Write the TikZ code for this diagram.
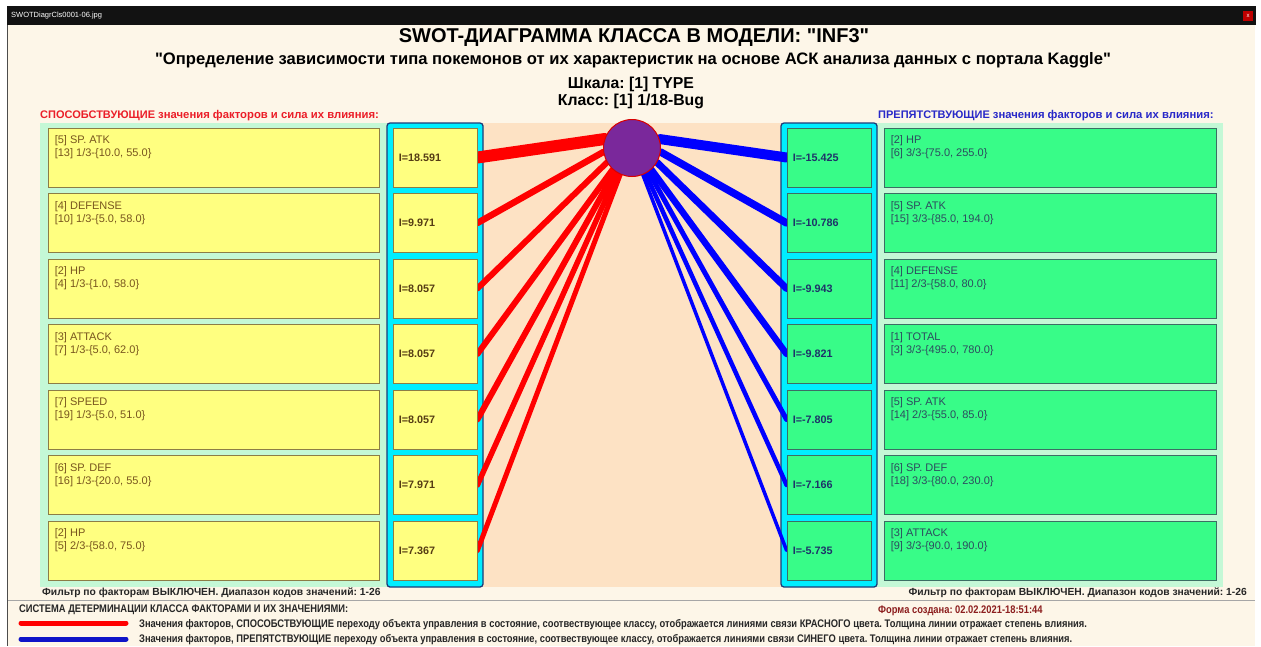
\documentclass[tikz,border=0pt]{standalone}
\usepackage{fontspec}
\setmainfont{Liberation Sans}[Ligatures=TeXOff]
\newfontfamily\nar{Liberation Sans}[FakeStretch=0.85,Ligatures=TeXOff]
\frenchspacing
\pgfdeclarelayer{bg}
\pgfdeclarelayer{lines}
\pgfsetlayers{bg,lines,main}
\definecolor{cream}{RGB}{253,246,232}
\definecolor{peach}{RGB}{253,226,196}
\definecolor{mint}{RGB}{196,248,214}
\definecolor{yel}{RGB}{255,255,128}
\definecolor{yelb}{RGB}{140,125,70}
\definecolor{cy}{RGB}{0,238,255}
\definecolor{cyb}{RGB}{30,60,120}
\definecolor{grn}{RGB}{56,252,136}
\definecolor{grnb}{RGB}{60,110,100}
\definecolor{ytxt}{RGB}{120,85,30}
\definecolor{gtxt}{RGB}{45,75,95}
\definecolor{ilab}{RGB}{85,60,20}
\definecolor{glab}{RGB}{30,50,105}
\definecolor{rtitle}{RGB}{235,30,40}
\definecolor{btitle}{RGB}{40,40,200}
\definecolor{formc}{RGB}{140,30,30}
\definecolor{purp}{RGB}{122,40,155}
\definecolor{lblue}{RGB}{15,20,200}
\begin{document}
\begin{tikzpicture}[x=1pt,y=-1pt,
  ybig/.style={draw=yelb, fill=yel, line width=0.8pt, minimum width=331pt, minimum height=59pt, inner sep=0pt},
  ysm/.style={draw=yelb, fill=yel, line width=0.8pt, minimum width=84pt, minimum height=59pt, inner sep=0pt},
  gbig/.style={draw=grnb, fill=grn, line width=0.8pt, minimum width=332pt, minimum height=59pt, inner sep=0pt},
  gsm/.style={draw=grnb, fill=grn, line width=0.8pt, minimum width=84pt, minimum height=59pt, inner sep=0pt},
  colbox/.style={draw=cyb, fill=cy, line width=1.3pt, rounded corners=3pt, minimum width=96pt, minimum height=464pt, inner sep=0pt},
  ytext/.style={anchor=north west, align=left, inner sep=0pt, text=ytxt, font=\fontsize{11}{13}\selectfont},
  gtext/.style={anchor=north west, align=left, inner sep=0pt, text=gtxt, font=\fontsize{11}{13}\selectfont},
  ilabel/.style={anchor=west, inner sep=0pt, text=ilab, font=\bfseries\fontsize{10.8}{12}\selectfont},
  glabel/.style={anchor=west, inner sep=0pt, text=glab, font=\bfseries\fontsize{10.8}{12}\selectfont},
  rl/.style={draw=red, line cap=round},
  bl/.style={draw=blue, line cap=round},
  legtext/.style={anchor=west, inner sep=0pt, text=black!85, font=\nar\bfseries\fontsize{11}{12}\selectfont},
  foot/.style={inner sep=0pt, text=black!85, font=\bfseries\fontsize{10.3}{12}\selectfont}
]
\useasboundingbox (0,0) rectangle (1261,646);
\begin{pgfonlayer}{bg}
\fill[white] (0,0) rectangle (1261,646);
\fill[cream] (7,25) rectangle (1255,646);
\fill[black!93] (7,6) rectangle (1256,25);
\draw[black!70, line width=1pt] (7.5,25) -- (7.5,646);
\fill[mint] (40,123) rectangle (387,587);
\fill[mint] (877,123) rectangle (1223,587);
\fill[peach] (483,123) rectangle (781,587);
\draw[gray!70, line width=1.2pt] (8,600.5) -- (1255,600.5);
\node[colbox] (colL) at (435,355) {};
\node[colbox] (colR) at (829,355) {};
\end{pgfonlayer}

% title bar
\node[anchor=west, inner sep=0pt, text=white, font=\fontsize{7.5}{8}\selectfont] (tbar) at (11,15.5) {SWOTDiagrCls0001-06.jpg};
\node[fill=red!75!black, minimum width=10pt, minimum height=10pt, inner sep=0pt, text=white, font=\fontsize{6}{6}\selectfont] (close) at (1248,16) {x};

% titles
\node[inner sep=0pt, font=\bfseries\fontsize{20}{22}\selectfont] (title) at (634,38) {SWOT-ДИАГРАММА КЛАССА В МОДЕЛИ: "INF3"};
\node[inner sep=0pt, font=\bfseries\fontsize{16.6}{18}\selectfont] (sub) at (633,60) {"Определение зависимости типа покемонов от их характеристик на основе АСК анализа данных с портала Kaggle"};
\node[inner sep=0pt, font=\bfseries\fontsize{15.8}{17}\selectfont] (scale) at (631,84) {Шкала: [1] TYPE};
\node[inner sep=0pt, font=\bfseries\fontsize{15.8}{17}\selectfont] (cls) at (631,101) {Класс: [1] 1/18-Bug};
\node[anchor=west, inner sep=0pt, text=rtitle, font=\bfseries\fontsize{11}{13}\selectfont] (hl) at (40,116) {СПОСОБСТВУЮЩИЕ {\fontsize{11.3}{13}\selectfont значения факторов и сила их влияния:}};
\node[anchor=west, inner sep=0pt, text=btitle, font=\bfseries\fontsize{11}{13}\selectfont] (hr) at (878,116) {ПРЕПЯТСТВУЮЩИЕ {\fontsize{11.3}{13}\selectfont значения факторов и сила их влияния:}};

% left boxes
\node[ybig] (L1) at (213.5,157.5) {};
\node[ybig] (L2) at (213.5,223) {};
\node[ybig] (L3) at (213.5,288.5) {};
\node[ybig] (L4) at (213.5,354) {};
\node[ybig] (L5) at (213.5,419.5) {};
\node[ybig] (L6) at (213.5,485) {};
\node[ybig] (L7) at (213.5,550.5) {};
\node[ytext] (L1t) at ([shift={(7,8)}]L1.north west) {[5] SP. ATK\\{}[13] 1/3-\{10.0, 55.0\}};
\node[ytext] (L2t) at ([shift={(7,8)}]L2.north west) {[4] DEFENSE\\{}[10] 1/3-\{5.0, 58.0\}};
\node[ytext] (L3t) at ([shift={(7,8)}]L3.north west) {[2] HP\\{}[4] 1/3-\{1.0, 58.0\}};
\node[ytext] (L4t) at ([shift={(7,8)}]L4.north west) {[3] ATTACK\\{}[7] 1/3-\{5.0, 62.0\}};
\node[ytext] (L5t) at ([shift={(7,8)}]L5.north west) {[7] SPEED\\{}[19] 1/3-\{5.0, 51.0\}};
\node[ytext] (L6t) at ([shift={(7,8)}]L6.north west) {[6] SP. DEF\\{}[16] 1/3-\{20.0, 55.0\}};
\node[ytext] (L7t) at ([shift={(7,8)}]L7.north west) {[2] HP\\{}[5] 2/3-\{58.0, 75.0\}};

\node[ysm] (S1) at (435,157.5) {};
\node[ysm] (S2) at (435,223) {};
\node[ysm] (S3) at (435,288.5) {};
\node[ysm] (S4) at (435,354) {};
\node[ysm] (S5) at (435,419.5) {};
\node[ysm] (S6) at (435,485) {};
\node[ysm] (S7) at (435,550.5) {};
\node[ilabel] (S1t) at ([xshift=6]S1.west) {I=18.591};
\node[ilabel] (S2t) at ([xshift=6]S2.west) {I=9.971};
\node[ilabel] (S3t) at ([xshift=6]S3.west) {I=8.057};
\node[ilabel] (S4t) at ([xshift=6]S4.west) {I=8.057};
\node[ilabel] (S5t) at ([xshift=6]S5.west) {I=8.057};
\node[ilabel] (S6t) at ([xshift=6]S6.west) {I=7.971};
\node[ilabel] (S7t) at ([xshift=6]S7.west) {I=7.367};

% right boxes
\node[gsm] (T1) at (829,157.5) {};
\node[gsm] (T2) at (829,223) {};
\node[gsm] (T3) at (829,288.5) {};
\node[gsm] (T4) at (829,354) {};
\node[gsm] (T5) at (829,419.5) {};
\node[gsm] (T6) at (829,485) {};
\node[gsm] (T7) at (829,550.5) {};
\node[glabel] (T1t) at ([xshift=6]T1.west) {I=-15.425};
\node[glabel] (T2t) at ([xshift=6]T2.west) {I=-10.786};
\node[glabel] (T3t) at ([xshift=6]T3.west) {I=-9.943};
\node[glabel] (T4t) at ([xshift=6]T4.west) {I=-9.821};
\node[glabel] (T5t) at ([xshift=6]T5.west) {I=-7.805};
\node[glabel] (T6t) at ([xshift=6]T6.west) {I=-7.166};
\node[glabel] (T7t) at ([xshift=6]T7.west) {I=-5.735};

\node[gbig] (R1) at (1050,157.5) {};
\node[gbig] (R2) at (1050,223) {};
\node[gbig] (R3) at (1050,288.5) {};
\node[gbig] (R4) at (1050,354) {};
\node[gbig] (R5) at (1050,419.5) {};
\node[gbig] (R6) at (1050,485) {};
\node[gbig] (R7) at (1050,550.5) {};
\node[gtext] (R1t) at ([shift={(7,8)}]R1.north west) {[2] HP\\{}[6] 3/3-\{75.0, 255.0\}};
\node[gtext] (R2t) at ([shift={(7,8)}]R2.north west) {[5] SP. ATK\\{}[15] 3/3-\{85.0, 194.0\}};
\node[gtext] (R3t) at ([shift={(7,8)}]R3.north west) {[4] DEFENSE\\{}[11] 2/3-\{58.0, 80.0\}};
\node[gtext] (R4t) at ([shift={(7,8)}]R4.north west) {[1] TOTAL\\{}[3] 3/3-\{495.0, 780.0\}};
\node[gtext] (R5t) at ([shift={(7,8)}]R5.north west) {[5] SP. ATK\\{}[14] 2/3-\{55.0, 85.0\}};
\node[gtext] (R6t) at ([shift={(7,8)}]R6.north west) {[6] SP. DEF\\{}[18] 3/3-\{80.0, 230.0\}};
\node[gtext] (R7t) at ([shift={(7,8)}]R7.north west) {[3] ATTACK\\{}[9] 3/3-\{90.0, 190.0\}};

% central circle
\node[circle, fill=purp, draw=red!85!black, line width=1pt, minimum size=57pt, inner sep=0pt] (C) at (632,148) {};

\begin{pgfonlayer}{lines}
\draw[rl, line width=12pt] (C.162) -- (S1.east);
\draw[rl, line width=6.5pt] (C.188) -- (S2.east);
\draw[rl, line width=6pt] (C.210) -- (S3.east);
\draw[rl, line width=6pt] (C.228) -- (S4.east);
\draw[rl, line width=6pt] (C.234) -- (S5.east);
\draw[rl, line width=5.5pt] (C.240) -- (S6.east);
\draw[rl, line width=5pt] (C.246) -- (S7.east);
\draw[bl, line width=10pt] (C.18) -- (T1.west);
\draw[bl, line width=7.5pt] (C.-8) -- (T2.west);
\draw[bl, line width=7pt] (C.-30) -- (T3.west);
\draw[bl, line width=6.5pt] (C.-48) -- (T4.west);
\draw[bl, line width=5pt] (C.-55) -- (T5.west);
\draw[bl, line width=4.5pt] (C.-62) -- (T6.west);
\draw[bl, line width=3.5pt] (C.-68) -- (T7.west);
\end{pgfonlayer}

% footer
\node[foot, anchor=west] (f1) at (42,593) {Фильтр по факторам ВЫКЛЮЧЕН. Диапазон кодов значений: 1-26};
\node[foot, anchor=east] (f2) at (1247,593) {Фильтр по факторам ВЫКЛЮЧЕН. Диапазон кодов значений: 1-26};
\node[legtext] (sys) at (19,610) {СИСТЕМА ДЕТЕРМИНАЦИИ КЛАССА ФАКТОРАМИ И ИХ ЗНАЧЕНИЯМИ:};
\node[legtext, text=formc] (form) at (878,611) {Форма создана: 02.02.2021-18:51:44};
\coordinate (r1) at (21,623);
\coordinate (r2) at (126,623);
\coordinate (b1) at (21,639);
\coordinate (b2) at (126,639);
\draw[red, line width=5pt, line cap=round] (r1) -- (r2);
\draw[lblue, line width=5pt, line cap=round] (b1) -- (b2);
\node[legtext] (lt1) at (139,625) {Значения факторов, СПОСОБСТВУЮЩИЕ переходу объекта управления в состояние, соотвествующее классу, отображается линиями связи КРАСНОГО цвета. Толщина линии отражает степень влияния.};
\node[legtext] (lt2) at (139,640) {Значения факторов, ПРЕПЯТСТВУЮЩИЕ переходу объекта управления в состояние, соотвествующее классу, отображается линиями связи СИНЕГО цвета. Толщина линии отражает степень влияния.};
\end{tikzpicture}
\end{document}
